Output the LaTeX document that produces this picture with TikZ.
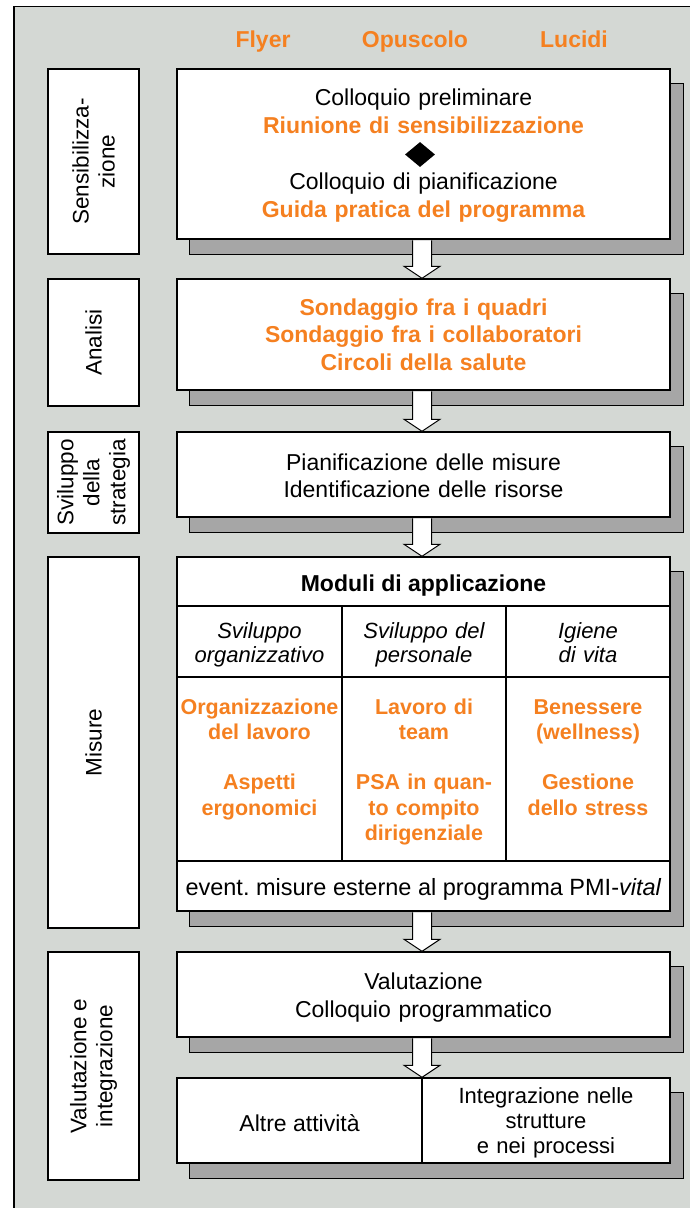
\documentclass[tikz,border=0pt]{standalone}
\usepackage{fontspec}
\setmainfont{Liberation Sans}
\usetikzlibrary{calc,backgrounds,shapes.geometric}
\definecolor{pmiorange}{RGB}{245,128,32}
\definecolor{bggray}{RGB}{212,216,212}
\definecolor{shgray}{RGB}{166,166,166}
\newcommand\harrow[2]{%
  \path (ax |- #1.south) coordinate (hs) (ax |- #2.north) coordinate (ht);
  \filldraw[hollowarrow] ($(hs)+(-9.5,0.7)$) -- ($(ht)+(-9.5,-12)$) -- ($(ht)+(-18,-12)$) -- (ht) -- ($(ht)+(18,-12)$) -- ($(ht)+(9.5,-12)$) -- ($(hs)+(9.5,0.7)$);}
\newcommand\shadowof[2]{%
  \filldraw[shadowbox] ($(#1.north west)+(13,15)$) rectangle ($(#2.south east)+(13,15)$);}
\tikzset{
  box/.style={draw=black, line width=1.4pt, fill=white, inner sep=0pt},
  lblbox/.style={box, rotate=90, align=center, font=\fontsize{22.5}{26}\selectfont},
  shadowbox/.style={draw=black, line width=1.4pt, fill=shgray},
  hollowarrow/.style={draw=black, line width=1pt, fill=white, line join=miter},
  txt/.style={inner sep=0pt, align=center, anchor=base, font=\fontsize{23}{27.5}\selectfont},
  otxt/.style={txt, text=pmiorange, font=\fontsize{23}{27.5}\selectfont\bfseries},
  ctxt/.style={inner sep=0pt, align=center, anchor=base, text=pmiorange, text width=162pt, font=\fontsize{21.5}{25.5}\selectfont\bfseries},
  itxt/.style={inner sep=0pt, align=center, anchor=base, text width=162pt, font=\fontsize{22}{24}\selectfont\itshape},
  headtxt/.style={inner sep=0pt, anchor=base, text=pmiorange, font=\fontsize{23}{27}\selectfont\bfseries}
}
\begin{document}
\begin{tikzpicture}[x=1pt, y=-1pt]
\useasboundingbox (0,0) rectangle (690,1208);
\coordinate (ax) at (422,0);

% header
\node[headtxt] (hflyer) at (263,47) {Flyer};
\node[headtxt] (hopus) at (415,47) {Opuscolo};
\node[headtxt] (hluc) at (574,47) {Lucidi};

% left labels
\node[lblbox, minimum width=185pt, minimum height=91pt] (l1) at (93.5,161.5) {Sensibilizza-\\zione};
\node[lblbox, minimum width=127pt, minimum height=91pt] (l2) at (93.5,342.5) {Analisi};
\node[lblbox, minimum width=101pt, minimum height=91pt] (l3) at (93.5,482.5) {Sviluppo\\della\\strategia};
\node[lblbox, minimum width=371pt, minimum height=91pt] (l4) at (93.5,742.5) {Misure};
\node[lblbox, minimum width=228pt, minimum height=91pt] (l5) at (93.5,1066) {Valutazione e\\integrazione};

% main boxes
\node[box, minimum width=493pt, minimum height=170pt] (b1) at (423.5,154) {};
\node[txt, text width=480pt, font=\fontsize{23}{28}\selectfont] (t1) at (423.5,105)
  {Colloquio preliminare\\ {\bfseries\color{pmiorange}Riunione di sensibilizzazione}\\[28pt]
   Colloquio di pianificazione\\ {\bfseries\color{pmiorange}Guida pratica del programma}};
\node[diamond, fill=black, minimum width=30pt, minimum height=25pt, inner sep=0pt] (dia) at (420,154.5) {};

\node[box, minimum width=493pt, minimum height=111pt] (b2) at (423.5,334.5) {};
\node[otxt, text width=480pt] (t2) at (423.5,315)
  {Sondaggio fra i quadri\\ Sondaggio fra i collaboratori\\ Circoli della salute};

\node[box, minimum width=493pt, minimum height=85pt] (b3) at (423.5,474.5) {};
\node[txt, text width=480pt, font=\fontsize{23}{27}\selectfont] (t3) at (423.5,470)
  {Pianificazione delle misure\\ Identificazione delle risorse};

% Misure block
\node[box, minimum width=493pt, minimum height=49pt] (mt) at (423.5,581.5) {};
\node[txt, font=\fontsize{23}{27}\selectfont\bfseries] (mtt) at (423.5,591) {Moduli di applicazione};
\node[box, minimum width=165pt, minimum height=71pt] (h1) at (259.5,641.5) {};
\node[box, minimum width=164pt, minimum height=71pt] (h2) at (424,641.5) {};
\node[box, minimum width=164pt, minimum height=71pt] (h3) at (588,641.5) {};
\node[itxt] (h1t) at (259.5,638) {Sviluppo\\ organizzativo};
\node[itxt] (h2t) at (424,638) {Sviluppo del\\ personale};
\node[itxt] (h3t) at (588,638) {Igiene\\ di vita};
\node[box, minimum width=165pt, minimum height=184pt] (c1) at (259.5,769) {};
\node[box, minimum width=164pt, minimum height=184pt] (c2) at (424,769) {};
\node[box, minimum width=164pt, minimum height=184pt] (c3) at (588,769) {};
\node[ctxt] (c1t) at (259.5,714) {Organizzazione\\ del lavoro\\[24.5pt] Aspetti\\ ergonomici};
\node[ctxt] (c2t) at (424,714) {Lavoro di\\ team\\[24.5pt] PSA in quan-\\ to compito\\ dirigenziale};
\node[ctxt] (c3t) at (588,714) {Benessere\\ (wellness)\\[24.5pt] Gestione\\ dello stress};
\node[box, minimum width=493pt, minimum height=50pt] (ft) at (423.5,886) {};
\node[txt, font=\fontsize{23.5}{27}\selectfont] (ftt) at (423.5,895) {event.\ misure esterne al programma PMI-\textit{vital}};

% Valutazione
\node[box, minimum width=493pt, minimum height=85pt] (b5) at (423.5,994.5) {};
\node[txt, text width=480pt, font=\fontsize{23}{28}\selectfont] (t5) at (423.5,989)
  {Valutazione\\ Colloquio programmatico};
\node[box, minimum width=245pt, minimum height=85pt] (b6a) at (299.5,1120.5) {};
\node[box, minimum width=248pt, minimum height=85pt] (b6b) at (546,1120.5) {};
\node[txt] (t6a) at (299.5,1131) {Altre attività};
\node[txt, text width=240pt, font=\fontsize{22}{25}\selectfont] (t6b) at (546,1103)
  {Integrazione nelle\\ strutture\\ e nei processi};

% arrows
\harrow{b1}{b2}
\harrow{b2}{b3}
\harrow{b3}{mt}
\harrow{ft}{b5}
\harrow{b5}{b6a}

\begin{scope}[on background layer]
  \fill[white] (0,0) rectangle (690,1208);
  \fill[bggray] (14,6.5) rectangle (692,1210);
  \draw[line width=1.6pt] (14,1210) -- (14,6.5) -- (692,6.5);
  \shadowof{b1}{b1}
  \shadowof{b2}{b2}
  \shadowof{b3}{b3}
  \shadowof{mt}{ft}
  \shadowof{b5}{b5}
  \shadowof{b6a}{b6b}
\end{scope}
\end{tikzpicture}
\end{document}
